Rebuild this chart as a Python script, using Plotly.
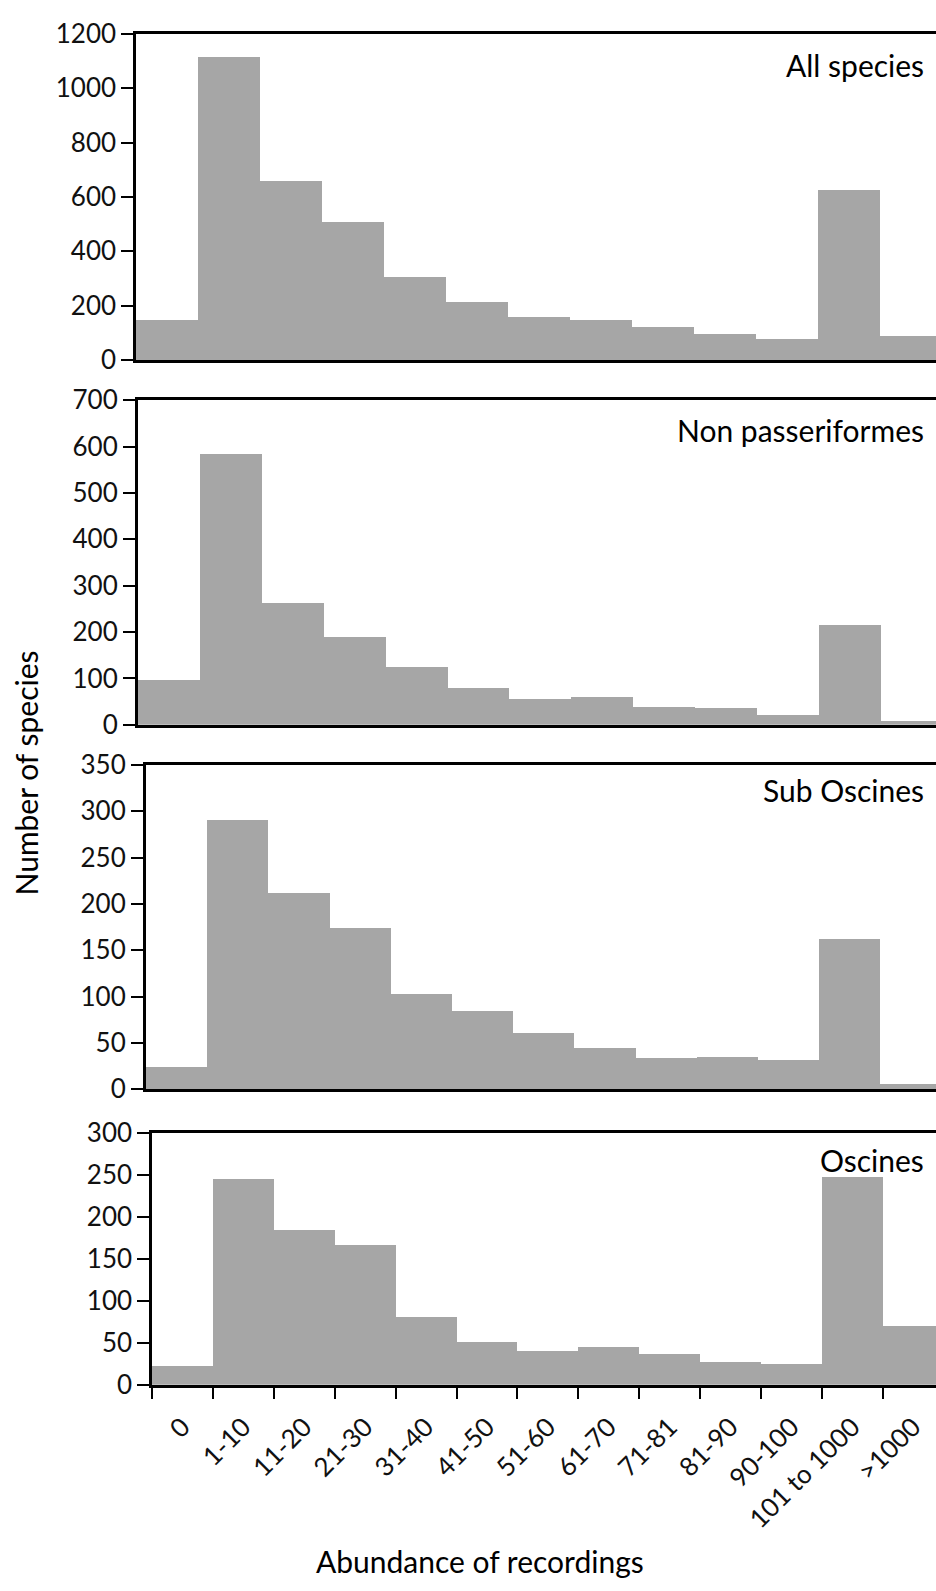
import plotly.graph_objects as go

W, H = 936, 1591

categories = ["0", "1-10", "11-20", "21-30", "31-40", "41-50", "51-60",
              "61-70", "71-81", "81-90", "90-100", "101 to 1000", ">1000"]
all_species = [146, 1117, 658, 509, 304, 215, 157, 149, 123, 95, 79, 624, 88]
non_passeriformes = [96, 583, 262, 189, 124, 80, 56, 59, 37, 35, 21, 215, 8]
sub_oscines = [24, 291, 212, 174, 103, 85, 61, 45, 34, 35, 32, 162, 6]
oscines = [22, 245, 184, 167, 80, 51, 40, 45, 36, 27, 24, 247, 70]

panel_names = ["All species", "Non passeriformes", "Sub Oscines", "Oscines"]
panel_values = [all_species, non_passeriformes, sub_oscines, oscines]
y_max = [1200, 700, 350, 300]
y_dtick = [200, 100, 50, 50]

# layout geometry in pixels
left_px = [136, 137.7, 145.7, 152]
cat_w = [62.0, 61.9, 61.2, 60.9]
top_px = [17.3, 391, 763.3, 1139]
bot_px = [350, 722.3, 1094.3, 1395.7]
label_y_px = [49, 421, 789, 1166]

BAR = "#a6a6a6"
FONT = "Lato"
TICK_SIZE = 26
LABEL_SIZE = 30

fig = go.Figure()
layout = dict(
    width=W, height=H, autosize=False,
    margin=dict(l=0, r=0, t=0, b=0),
    plot_bgcolor="white", paper_bgcolor="white",
    bargap=0, showlegend=False,
    font=dict(family=FONT, color="black", size=TICK_SIZE),
)
annotations = []
for i in range(4):
    s = "" if i == 0 else str(i + 1)
    fig.add_trace(go.Bar(
        x=categories, y=panel_values[i], xaxis="x" + s, yaxis="y" + s,
        marker=dict(color=BAR, line=dict(width=0)), hoverinfo="x+y"))
    rng_end = -0.5 + (W - left_px[i]) / cat_w[i]
    last = (i == 3)
    layout["xaxis" + s] = dict(
        domain=[left_px[i] / W, 1], anchor="y" + s,
        type="category", range=[-0.5, rng_end],
        showline=True, linecolor="black", linewidth=2.5, mirror=True,
        showgrid=False, zeroline=False,
        ticks="outside" if last else "", ticklen=12, tickwidth=2,
        tickcolor="black", tickson="boundaries",
        showticklabels=last, tickangle=-45,
        tickfont=dict(family=FONT, size=TICK_SIZE, color="#111111"),
        ticklabelstandoff=14,
    )
    layout["yaxis" + s] = dict(
        domain=[(H - bot_px[i]) / H, (H - top_px[i]) / H], anchor="x" + s,
        range=[0, y_max[i]], dtick=y_dtick[i], tick0=0,
        showline=True, linecolor="black", linewidth=2.5,
        showgrid=False, zeroline=False,
        ticks="outside", ticklen=12, tickwidth=2, tickcolor="black",
        tickfont=dict(family=FONT, size=TICK_SIZE, color="#111111"),
    )
    annotations.append(dict(
        text=panel_names[i], xref="paper", yref="paper",
        x=926 / W, y=(H - label_y_px[i]) / H, xanchor="right", yanchor="middle",
        showarrow=False, font=dict(family=FONT, size=LABEL_SIZE, color="black")))

annotations.append(dict(
    text="Number of species", xref="paper", yref="paper",
    x=26 / W, y=(H - 772) / H, xanchor="center", yanchor="middle",
    textangle=-90, showarrow=False,
    font=dict(family=FONT, size=LABEL_SIZE, color="black")))
annotations.append(dict(
    text="Abundance of recordings", xref="paper", yref="paper",
    x=480 / W, y=(H - 1576) / H, xanchor="center", yanchor="middle",
    showarrow=False, font=dict(family=FONT, size=LABEL_SIZE, color="black")))

layout["annotations"] = annotations
fig.update_layout(**layout)
fig.write_html(
    "out.html",
    config={"displayModeBar": False},
    post_script="document.body.style.margin='0';document.body.style.overflow='hidden';",
)
